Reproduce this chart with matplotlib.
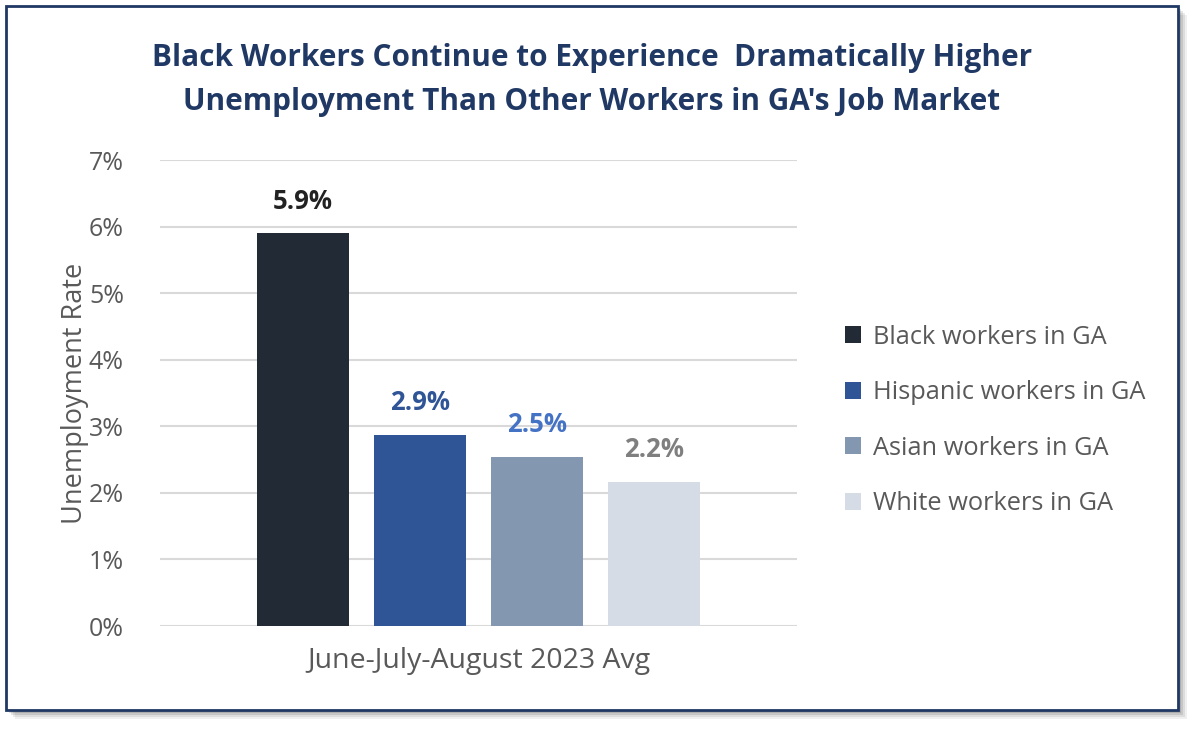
import matplotlib
matplotlib.use("Agg")
import matplotlib.pyplot as plt
from matplotlib.patches import Rectangle, Patch

categories = ["Black workers in GA", "Hispanic workers in GA", "Asian workers in GA", "White workers in GA"]
values = [5.9, 2.87, 2.54, 2.17]
value_labels = ["5.9%", "2.9%", "2.5%", "2.2%"]
bar_colors = ["#222A35", "#2F5597", "#8497B0", "#D6DCE5"]
label_colors = ["#222222", "#2F5597", "#4472C4", "#7F7F7F"]
yticks = [0, 1, 2, 3, 4, 5, 6, 7]
ytick_labels = ["0%", "1%", "2%", "3%", "4%", "5%", "6%", "7%"]
title = "Black Workers Continue to Experience  Dramatically Higher\nUnemployment Than Other Workers in GA's Job Market"
xlabel = "June-July-August 2023 Avg"
ylabel = "Unemployment Rate"

plt.rcParams['font.family'] = ['Open Sans', 'DejaVu Sans']

W, H = 1200, 731
fig = plt.figure(figsize=(W/100, H/100), dpi=100)

# shadow and frame
for i, a in enumerate([0.06, 0.08, 0.10, 0.12]):
    off = 9 - i * 2
    fig.patches.append(Rectangle(((6 + off) / W, 1 - (710 + off) / H), (1172) / W, (704) / H,
                                 transform=fig.transFigure, facecolor="#000000", alpha=a,
                                 edgecolor="none", zorder=0))
fig.patches.append(Rectangle((6 / W, 1 - 710 / H), 1172 / W, 704 / H, transform=fig.transFigure,
                             facecolor="white", edgecolor="#1F3864", linewidth=2, zorder=1))

ax = fig.add_axes([160 / W, 1 - 626 / H, (797 - 160) / W, (626 - 160) / H])
ax.set_zorder(2)
ax.patch.set_alpha(0)

xs = [-1.5, -0.5, 0.5, 1.5]
bars = ax.bar(xs, values, width=0.786, color=bar_colors, zorder=3, label=None)
for x, v, t, c in zip(xs, values, value_labels, label_colors):
    ax.text(x, v + 0.28, t, ha="center", va="bottom", fontsize=18.5, fontweight="bold", color=c)

ax.set_xlim(-2.72, 2.72)
ax.set_ylim(0, 7)
ax.set_yticks(yticks)
ax.set_yticklabels(ytick_labels, fontsize=18, color="#595959")
ax.set_xticks([])
ax.yaxis.grid(True, color="#D9D9D9", linewidth=1.5, zorder=0)
ax.set_axisbelow(True)
for s in ax.spines.values():
    s.set_visible(False)
ax.tick_params(axis="y", length=0, pad=26)
ax.set_xlabel(xlabel, fontsize=20.5, color="#595959", labelpad=15)
ax.set_ylabel(ylabel, fontsize=19.5, color="#595959", labelpad=0)

fig.text(592 / W, 1 - 80 / H, title, ha="center", va="center", fontsize=21.4, fontweight="bold",
         color="#1F3864", linespacing=1.62, zorder=3)

handles = [Patch(facecolor=c, edgecolor="none") for c in bar_colors]
leg = fig.legend(handles, categories, loc="upper left", bbox_to_anchor=(822 / W, 1 - 302 / H),
                 frameon=False, fontsize=18.3, labelcolor="#595959", handlelength=0.65, handleheight=0.65,
                 handletextpad=0.45, labelspacing=1.2)

fig.savefig("out.png", dpi=100)
